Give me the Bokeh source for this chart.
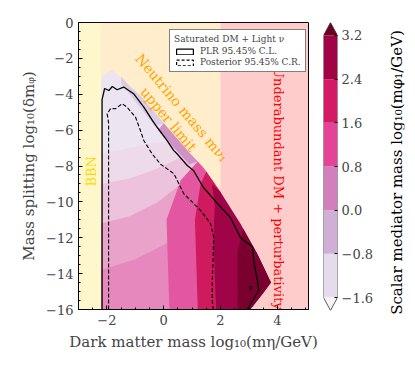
import numpy as np
from bokeh.plotting import figure
from bokeh.models import Range1d, FixedTicker, Legend, LegendItem, CustomJSTickFormatter
from bokeh.layouts import row
from bokeh.core.properties import value
from bokeh.embed import file_html
from bokeh.resources import INLINE

FONT = "DejaVu Serif"

# ---------------- data ----------------
REGION_LEFT = [-3.0, -2.2, 2.0]
REGION_RIGHT = [-2.2, 2.0, 5.1]
REGION_COLORS = ["#FFD700", "#FFA500", "#FF0000"]

# outer boundary of the sampled points
OUT_X = [-2.2, -2.2, -2.0, -1.8, -1.2, -0.8, 0.0, 0.9, 1.4, 2.0, 2.7, 3.3, 3.78, 3.5, 3.25, 3.05]
OUT_Y = [-16, -3.1, -2.78, -2.62, -3.55, -4.1, -5.6, -7.25, -8.1, -9.45, -11.2, -12.9, -14.5, -15.1, -15.6, -16]

# colour zones (visual average of the scattered points)
ZONE_PW0_X = [-2.2, -2.2, -1.2, -0.4, 0.3, 0.9, 1.4, 2.0, 2.0]
ZONE_PW0_Y = [-16, -7.3, -7.0, -6.7, -6.6, -7.25, -8.1, -9.45, -16]
ZONE_PW1_X = [-2.2, -2.2, -1.2, -0.3, 0.5, 0.9, 1.4, 2.0, 2.0]
ZONE_PW1_Y = [-16, -9.0, -8.7, -8.2, -7.6, -7.25, -8.1, -9.45, -16]
ZONE_PW2_X = [-2.2, -2.2, -1.2, -0.2, 0.6, 1.2, 2.0, 2.0]
ZONE_PW2_Y = [-16, -11.2, -10.8, -10.0, -9.0, -8.6, -9.45, -16]
ZONE_PW3_X = [-2.2, -2.2, -1.0, 0.0, 1.0, 1.0]
ZONE_PW3_Y = [-16, -13.8, -13.2, -12.4, -11.5, -16]
ZONE_LAV_X = [-1.5, -1.2, -0.8, 0.0, -0.3, -1.0, -1.5]
ZONE_LAV_Y = [-3.0, -3.55, -4.1, -5.6, -5.8, -4.4, -3.4]
ZONE_PURPLE_X = [0.0, 0.9, 1.2, 0.9, 0.3, -0.2]
ZONE_PURPLE_Y = [-5.6, -7.25, -7.75, -7.9, -6.9, -6.0]
ZONE_PINK_X = [0.2, 0.1, 0.6, 1.2, 1.4, 2.0, 2.0]
ZONE_PINK_Y = [-16, -11.0, -8.8, -7.75, -8.1, -9.45, -16]
ZONE_CRIMSON_X = [1.2, 1.1, 1.3, 1.5, 2.0, 2.0]
ZONE_CRIMSON_Y = [-16, -11.0, -9.0, -8.3, -9.45, -16]
ZONE_DARK_X = [1.85, 1.75, 1.8, 1.7, 2.0, 2.7, 3.3, 3.78, 3.5, 3.25, 3.05]
ZONE_DARK_Y = [-16, -12.0, -10.2, -9.0, -9.45, -11.2, -12.9, -14.5, -15.1, -15.6, -16]
ZONE_DARKEST_X = [2.6, 2.6, 2.8, 3.3, 3.78, 3.5, 3.25, 3.05]
ZONE_DARKEST_Y = [-16, -12.8, -11.5, -12.9, -14.5, -15.1, -15.6, -16]
BASE_COLOR = "#ece5f1"
ZONES = [(ZONE_PW0_X, ZONE_PW0_Y, "#eedbe9"),
         (ZONE_PW1_X, ZONE_PW1_Y, "#ecc2dc"),
         (ZONE_PW2_X, ZONE_PW2_Y, "#e9a2ca"),
         (ZONE_PW3_X, ZONE_PW3_Y, "#e688bd"),
         (ZONE_LAV_X, ZONE_LAV_Y, "#ddcbe4"),
         (ZONE_PURPLE_X, ZONE_PURPLE_Y, "#cf92c6"),
         (ZONE_PINK_X, ZONE_PINK_Y, "#e2579f"),
         (ZONE_CRIMSON_X, ZONE_CRIMSON_Y, "#cf1a5e"),
         (ZONE_DARK_X, ZONE_DARK_Y, "#9e0447"),
         (ZONE_DARKEST_X, ZONE_DARKEST_Y, "#7a0030")]

# contours
PLR_X = [-2.17, -2.17, -2.08, -1.93, -1.81, -1.64, -1.41, -1.06, -0.7, -0.4, -0.23, 0.12, 0.35, 0.47, 0.83,
         1.05, 1.4, 1.9, 2.35, 2.7, 2.95, 3.13, 3.17, 3.3, 3.35, 3.13, 2.95]
PLR_Y = [-16, -4.3, -3.68, -3.79, -3.57, -3.75, -3.6, -3.97, -4.72, -5.46, -5.84, -6.58, -7.13, -7.32, -7.97,
         -8.25, -9.2, -10.1, -10.87, -11.98, -12.3, -12.5, -13.27, -14.38, -14.94, -15.5, -16]
PLR_LOOP_X = [3.01, 3.06, 3.11, 3.06, 3.01]
PLR_LOOP_Y = [-14.8, -14.68, -14.8, -14.92, -14.8]
POST_X = [-1.94, -1.94, -1.99, -1.87, -1.7, -1.46, -1.29, -0.99, -0.82, -0.7, -0.41, -0.11, 0.36, 0.71, 1.3,
          1.65, 1.76, 1.74, 1.71, 1.71, 1.75]
POST_Y = [-16, -5.6, -5.09, -4.8, -4.81, -4.53, -4.72, -5.28, -6.02, -6.58, -7.32, -7.9, -8.43, -9.55, -10.48,
          -11.2, -11.96, -13.27, -14.38, -15.5, -16]

# colour bar
CB_LEVELS = [-1.6, -0.8, 0.0, 0.8, 1.6, 2.4, 3.2]
CB_COLORS = ["#e4dbec", "#d1aed5", "#d280bd", "#e4439a", "#d51965", "#a00346"]
CB_UNDER = "#f7f4f9"
CB_OVER = "#6e0024"

X_TICKS = [-2, 0, 2, 4]
Y_TICKS = [0, -2, -4, -6, -8, -10, -12, -14, -16]

# ---------------- main plot ----------------
p = figure(frame_width=230, frame_height=287, x_range=Range1d(-3.0, 5.1), y_range=Range1d(-16, 0),
           output_backend="svg", toolbar_location=None,
           min_border_left=78, min_border_top=22, min_border_right=12, min_border_bottom=10)
p.grid.visible = False
p.outline_line_color = "black"
p.outline_line_width = 1

p.quad(left=REGION_LEFT, right=REGION_RIGHT, bottom=-16, top=0, fill_color=REGION_COLORS,
       fill_alpha=0.2, line_color=None)

p.patch(OUT_X, OUT_Y, fill_color=BASE_COLOR, line_color=None)
for zx, zy, c in ZONES:
    p.patch(zx, zy, fill_color=c, line_color=None)

p.line(PLR_X, PLR_Y, line_color="black", line_width=1.3)
p.line(PLR_LOOP_X, PLR_LOOP_Y, line_color="black", line_width=1.0)
p.line(POST_X, POST_Y, line_color="black", line_width=1.1, line_dash="4 2")

# annotations
p.text(x=[-2.55], y=[-8.3], text=["BBN"], angle=90, angle_units="deg", text_align="center",
       text_baseline="middle", text_color="#FFD700", text_font=value(FONT), text_font_size="13px")
p.text(x=[0.41], y=[-5.07], text=["Neutrino mass m\u03bd\u2081\nupper limit"], angle=-50, angle_units="deg",
       text_align="center", text_baseline="middle", text_color="#FFA500", text_font=value(FONT),
       text_font_size="14px", text_line_height=1.1)
p.text(x=[4.04], y=[-9.25], text=["Underabundant DM + perturbativity"], angle=-90, angle_units="deg",
       text_align="center", text_baseline="middle", text_color="#FF0000", text_font=value(FONT),
       text_font_size="13px")

# legend (swatch renderers sit outside the visible ranges)
r1 = p.patch([10, 11, 11], [10, 10, 11], fill_color="white", line_color="black", line_width=1.2)
r2 = p.patch([10, 11, 11], [10, 10, 11], fill_color="white", line_color="black", line_width=1.2,
             line_dash="3 2")
legend = Legend(items=[LegendItem(label="PLR 95.45% C.L.", renderers=[r1]),
                       LegendItem(label="Posterior 95.45% C.R.", renderers=[r2])],
                title="Saturated DM + Light \u03bd", location=(91, 237))
legend.title_text_font = FONT
legend.title_text_font_size = "9px"
legend.title_text_font_style = "normal"
legend.label_text_font = FONT
legend.label_text_font_size = "9px"
legend.label_text_align = "left"
legend.glyph_width = 21
legend.glyph_height = 7
legend.label_height = 10
legend.label_standoff = 5
legend.spacing = 1
legend.padding = 4
legend.margin = 0
legend.title_standoff = 2
legend.border_line_color = "black"
legend.border_line_width = 1
legend.background_fill_alpha = 1
p.add_layout(legend)

fmt_int = CustomJSTickFormatter(code="return tick.toFixed(0).replace('-', '\\u2212');")
p.xaxis.ticker = FixedTicker(ticks=X_TICKS, minor_ticks=list(np.arange(-3.0, 5.01, 0.5)))
p.yaxis.ticker = FixedTicker(ticks=Y_TICKS, minor_ticks=list(np.arange(-16, 0.01, 0.5)))
p.xaxis.formatter = fmt_int
p.yaxis.formatter = fmt_int
for ax in (p.xaxis[0], p.yaxis[0]):
    ax.major_tick_in = 4
    ax.major_tick_out = 0
    ax.minor_tick_in = 2
    ax.minor_tick_out = 0
    ax.major_label_text_font = FONT
    ax.major_label_text_font_size = "13px"
    ax.axis_label_text_font = FONT
    ax.axis_label_text_font_size = "15px"
    ax.axis_label_text_font_style = "normal"
    ax.axis_line_color = "black"
    ax.major_tick_line_color = "black"
    ax.minor_tick_line_color = "black"
    ax.major_label_standoff = 5
    ax.axis_label_standoff = 5
p.xaxis.axis_label = "Dark matter mass log\u2081\u2080(m\u03b7/GeV)"
p.yaxis.axis_label = "Mass splitting log\u2081\u2080(\u03b4m\u1d69)"

# ---------------- colour bar ----------------
cb = figure(frame_width=14, frame_height=288, x_range=Range1d(0, 1), y_range=Range1d(-1.838, 3.438),
            output_backend="svg", toolbar_location=None, y_axis_location="right",
            min_border_left=3, min_border_top=22, min_border_right=2, min_border_bottom=10)
cb.grid.visible = False
cb.outline_line_color = None
cb.xaxis.visible = False
cb.quad(left=0, right=1, bottom=CB_LEVELS[:-1], top=CB_LEVELS[1:], fill_color=CB_COLORS, line_color=None)
lo, hi = CB_LEVELS[0], CB_LEVELS[-1]
cb.patch([0, 1, 0.5], [lo, lo, -1.838], fill_color=CB_UNDER, line_color=None)
cb.patch([0, 1, 0.5], [hi, hi, 3.438], fill_color=CB_OVER, line_color=None)
cb.line([0, 0, 0.5, 1, 1, 0.5, 0], [lo, hi, 3.438, hi, lo, -1.838, lo], line_color="#333333", line_width=0.8)
ya = cb.yaxis[0]
ya.ticker = FixedTicker(ticks=CB_LEVELS)
ya.formatter = CustomJSTickFormatter(code="return tick.toFixed(1).replace('-', '\\u2212');")
ya.axis_line_color = None
ya.major_tick_in = 3
ya.major_tick_out = 0
ya.minor_tick_line_color = None
ya.major_label_text_font = FONT
ya.major_label_text_font_size = "13px"
ya.major_label_standoff = 4

# colour-bar label, drawn in its own narrow panel so that it reads bottom to top
lab = figure(frame_width=16, frame_height=300, x_range=Range1d(0, 1), y_range=Range1d(0, 1),
             output_backend="svg", toolbar_location=None,
             min_border_left=12, min_border_top=17, min_border_right=2, min_border_bottom=2)
lab.axis.visible = False
lab.grid.visible = False
lab.outline_line_color = None
lab.text(x=[0.5], y=[0.5], text=["Scalar mediator mass log\u2081\u2080(m\u03c6\u2081/GeV)"], angle=90,
         angle_units="deg", text_align="center", text_baseline="middle", text_color="black",
         text_font=value(FONT), text_font_size="15px")

layout = row(p, cb, lab)
open("out.html", "w").write(file_html(layout, INLINE))
